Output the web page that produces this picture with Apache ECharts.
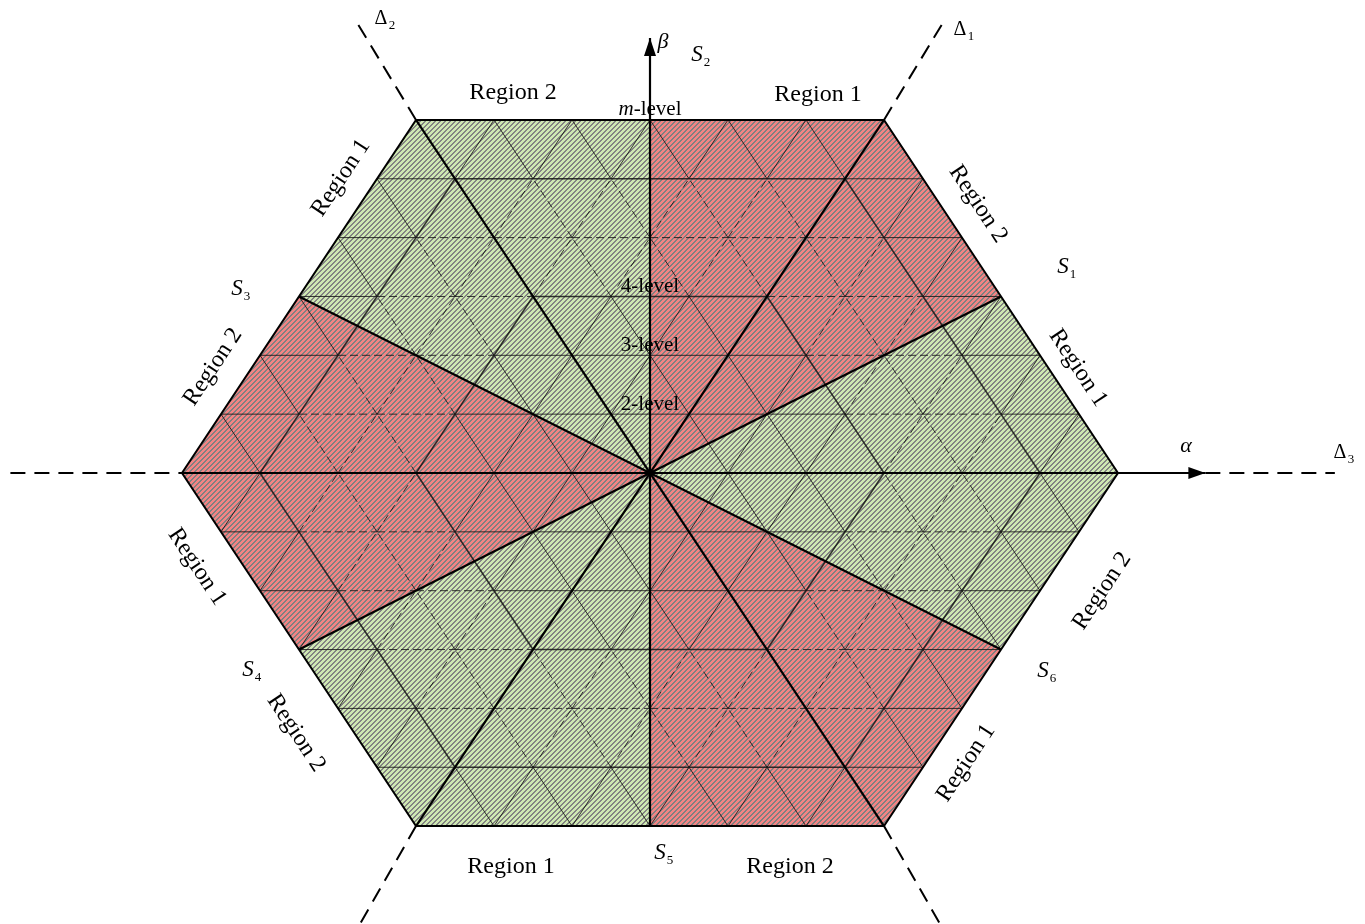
<!DOCTYPE html>
<html>
<head>
<meta charset="utf-8">
<script src="https://cdn.jsdelivr.net/npm/echarts@6/dist/echarts.min.js"></script>
<style>
  html, body { margin: 0; padding: 0; background: #ffffff; }
  #main { width: 1365px; height: 924px; }
</style>
</head>
<body>
<div id="main"></div>
<script>
// Space-vector hexagon of an m-level converter.
// Coordinates are lattice units: u along alpha (one triangle side),
// r along beta (one triangle row).
const hexRadius = 6;
const hexVertices = [[6, 0], [3, 6], [-3, 6], [-6, 0], [-3, -6], [3, -6]];
const dashedRing = 4;                  // intermediate levels, drawn dashed
const boldRings = [3, 5];              // 4-level hexagon and outer band
const levelNames = ['2-level', '3-level', '4-level', 'm-level'];
const levelRows = [1, 2, 3, 6];
const sectorNames = ['1', '2', '3', '4', '5', '6'];
const deltaNames = ['1', '2', '3'];
const regionNames = ['Region 1', 'Region 2'];
const regionOrder = [1, 0, 0, 1, 0, 1, 0, 1, 0, 1, 0, 1];

// Regions cut by the 30-degree lines through the edge midpoints
const redRegions = [
  [[0, 0], [0, 6], [3, 6], [4.5, 3]],
  [[0, 0], [-4.5, 3], [-6, 0], [-4.5, -3]],
  [[0, 0], [4.5, -3], [3, -6], [0, -6]]
];
const greenRegions = [
  [[0, 0], [4.5, 3], [6, 0], [4.5, -3]],
  [[0, 0], [0, -6], [-3, -6], [-4.5, -3]],
  [[0, 0], [-4.5, 3], [-3, 6], [0, 6]]
];

// ---- layout (lattice units) ----
const view = { uMin: -650 / 78, uMax: 715 / 78, rMin: -451 / 58.85, rMax: 473 / 58.85 };
const regionLabelAt = [
  [-1.756, 6.457, 0], [2.154, 6.423, 0],
  [-3.962, 5.013, 56.5], [-5.603, 1.801, 56.5],
  [-5.808, -1.597, -56.5], [-4.538, -4.418, -56.5],
  [-1.782, -6.695, 0], [1.795, -6.695, 0],
  [4.051, -4.928, 56.5], [5.795, -2.005, 56.5],
  [5.487, 1.784, -56.5], [4.205, 4.571, -56.5]
];
const sectorLabelAt = [[5.295, 3.5], [0.603, 7.103], [-5.295, 3.127], [-5.154, -3.347], [0.128, -6.457], [5.038, -3.364]];
const deltaLabelAt = [[3.974, 7.528], [-3.449, 7.715], [8.846, 0.34]];
const deltaLines = [
  [3, 6, 3.756, 7.65], [-3, -6, -3.756, -7.75],
  [-3, 6, -3.756, 7.65], [3, -6, 3.756, -7.75],
  [-8.2, 0, -6, 0], [7.12, 0, 8.78, 0]
];
const heavyLines = [
  [-6, 0, 6, 0], [-3, -6, 3, 6], [-3, 6, 3, -6],
  [-4.5, -3, 4.5, 3], [-4.5, 3, 4.5, -3],
  [0, -6, 0, 7.39], [6, 0, 7.12, 0]
];

const SERIF = '"Liberation Serif", "DejaVu Serif", serif';

// hexagonal ring index of a lattice point
function ring(u, r) { return Math.max(Math.abs(r), Math.abs(u) + Math.abs(r) / 2); }

// triangular grid segments inside the hexagon
const gridSegs = [];
for (let r = -hexRadius; r <= hexRadius; r++) {
  const half = hexRadius - Math.abs(r) / 2;
  for (let u = -half; u <= half + 1e-9; u += 1) {
    [[u + 1, r], [u + 0.5, r + 1], [u - 0.5, r + 1]].forEach(([u2, r2]) => {
      if (r2 > hexRadius) return;
      if (ring(u2, r2) > hexRadius + 1e-9) return;
      const d1 = ring(u, r), d2 = ring(u2, r2);
      if (d1 >= hexRadius && d2 >= hexRadius) return;          // outline
      if (Math.abs(u * (r2 - r) - r * (u2 - u)) < 1e-9) return; // lines through origin
      const dashed = Math.max(d1, d2) >= dashedRing && Math.min(d1, d2) <= dashedRing;
      const bold = !dashed && d1 === d2 && boldRings.indexOf(d1) >= 0;
      gridSegs.push([u, r, u2, r2, dashed ? 1 : 0, bold ? 1.6 : 1]);
    });
  }
}

function hatch(base, stripe) {
  const n = 5;
  const cv = document.createElement('canvas');
  cv.width = n; cv.height = n;
  const ctx = cv.getContext('2d');
  for (let x = 0; x < n; x++) {
    for (let y = 0; y < n; y++) {
      ctx.fillStyle = ((x + y) % n < 2) ? stripe : base;
      ctx.fillRect(x, y, 1, 1);
    }
  }
  return { image: cv, repeat: 'repeat' };
}
const redFill = hatch('#f28484', '#808080');
const greenFill = hatch('#cfe8b3', '#838383');

const regionPolys = redRegions.map(p => ({ pts: p, fill: redFill }))
  .concat(greenRegions.map(p => ({ pts: p, fill: greenFill })));

function segLine(api, a, b, style) {
  const p = api.coord(a), q = api.coord(b);
  return { type: 'line', shape: { x1: p[0], y1: p[1], x2: q[0], y2: q[1] }, style: style };
}

function textEl(x, y, text, size, italic, rot) {
  return {
    type: 'text', x: x, y: y, rotation: (rot || 0) * Math.PI / 180,
    style: {
      text: text, fontFamily: SERIF, fontSize: size,
      fontStyle: italic ? 'italic' : 'normal',
      fill: '#000', align: 'center', verticalAlign: 'middle'
    }
  };
}

const chart = echarts.init(document.getElementById('main'), null, { renderer: 'canvas' });
chart.setOption({
  animation: false,
  backgroundColor: '#ffffff',
  grid: { left: 0, right: 0, top: 0, bottom: 0 },
  xAxis: { type: 'value', min: view.uMin, max: view.uMax, show: false },
  yAxis: { type: 'value', min: view.rMin, max: view.rMax, show: false },
  series: [
    {
      // hatched regions
      type: 'custom', z: 1, silent: true,
      data: regionPolys.map((p, i) => [i, 0]),
      renderItem: (params, api) => {
        const poly = regionPolys[api.value(0)];
        return { type: 'polygon', shape: { points: poly.pts.map(p => api.coord(p)) }, style: { fill: poly.fill } };
      }
    },
    {
      // triangular lattice
      type: 'custom', z: 2, silent: true,
      data: gridSegs,
      renderItem: (params, api) => segLine(api,
        [api.value(0), api.value(1)], [api.value(2), api.value(3)],
        { stroke: '#141414', opacity: 0.85, lineWidth: api.value(5), lineDash: api.value(4) ? [8, 4] : null })
    },
    {
      // hexagon outline
      type: 'custom', z: 3, silent: true,
      data: [[0, 0]],
      renderItem: (params, api) => ({
        type: 'polygon',
        shape: { points: hexVertices.map(p => api.coord(p)) },
        style: { fill: null, stroke: '#000', lineWidth: 2 }
      })
    },
    {
      // axes, diagonals and region borders
      type: 'custom', z: 3, silent: true,
      data: heavyLines,
      renderItem: (params, api) => segLine(api,
        [api.value(0), api.value(1)], [api.value(2), api.value(3)],
        { stroke: '#000', lineWidth: 2.2 })
    },
    {
      // boundary lines outside the hexagon
      type: 'custom', z: 3, silent: true,
      data: deltaLines,
      renderItem: (params, api) => segLine(api,
        [api.value(0), api.value(1)], [api.value(2), api.value(3)],
        { stroke: '#000', lineWidth: 2, lineDash: [15, 9] })
    },
    {
      // arrow heads of alpha and beta
      type: 'custom', z: 4, silent: true,
      data: [[0, 7.39, 0], [7.12, 0, 1]],
      renderItem: (params, api) => {
        const t = api.coord([api.value(0), api.value(1)]);
        const pts = api.value(2)
          ? [[t[0], t[1]], [t[0] - 17, t[1] - 6], [t[0] - 17, t[1] + 6]]
          : [[t[0], t[1]], [t[0] - 6, t[1] + 18], [t[0] + 6, t[1] + 18]];
        return { type: 'polygon', shape: { points: pts }, style: { fill: '#000' } };
      }
    },
    {
      // text
      type: 'custom', z: 5, silent: true,
      data: [[0, 0]],
      renderItem: (params, api) => {
        const kids = [];
        regionLabelAt.forEach((a, i) => {
          const p = api.coord([a[0], a[1]]);
          kids.push(textEl(p[0], p[1], regionNames[regionOrder[i]], 24, false, a[2]));
        });
        levelNames.forEach((name, i) => {
          const p = api.coord([0, levelRows[i]]);
          if (name.charAt(0) === 'm') {
            kids.push({
              type: 'text', x: p[0], y: p[1] - 10,
              style: {
                text: '{i|m}{n|-level}', align: 'center', verticalAlign: 'middle', fill: '#000',
                rich: {
                  i: { fontFamily: SERIF, fontSize: 21, fontStyle: 'italic' },
                  n: { fontFamily: SERIF, fontSize: 21 }
                }
              }
            });
          } else {
            kids.push(textEl(p[0], p[1] - 10, name, 21, false, 0));
          }
        });
        sectorNames.forEach((n, i) => {
          const p = api.coord(sectorLabelAt[i]);
          kids.push(textEl(p[0], p[1], 'S', 23, true, 0));
          kids.push(textEl(p[0] + 10, p[1] + 8, n, 13, false, 0));
        });
        deltaNames.forEach((n, i) => {
          const p = api.coord(deltaLabelAt[i]);
          kids.push(textEl(p[0], p[1], '\u0394', 20, false, 0));
          kids.push(textEl(p[0] + 11, p[1] + 7, n, 13, false, 0));
        });
        const a = api.coord([6.872, 0.459]);
        kids.push(textEl(a[0], a[1], '\u03b1', 22, true, 0));
        const b = api.coord([0.167, 7.324]);
        kids.push(textEl(b[0], b[1], '\u03b2', 22, true, 0));
        return { type: 'group', children: kids };
      }
    }
  ]
});
</script>
</body>
</html>
